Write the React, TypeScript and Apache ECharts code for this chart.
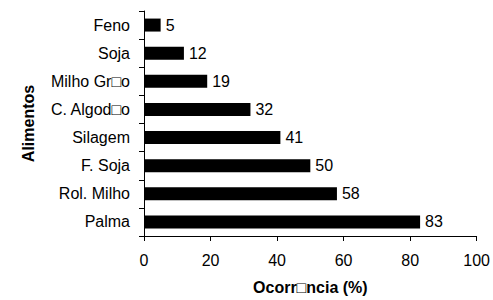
import React, { useEffect, useRef } from "react";
import * as echarts from "echarts";

const categories = ["Palma", "Rol. Milho", "F. Soja", "Silagem", "C. Algod□o", "Milho Gr□o", "Soja", "Feno"];
const values = [83, 58, 50, 41, 32, 19, 12, 5];
const xTicks = { min: 0, max: 100, interval: 20 };

export default function App() {
  const ref = useRef<HTMLDivElement>(null);
  useEffect(() => {
    const chart = echarts.init(ref.current!, null, { renderer: "svg" });
    const font = "'Liberation Sans', 'DejaVu Sans', Arial, sans-serif";
    chart.setOption({
      animation: false,
      grid: { left: 144, right: 15, top: 11, bottom: 60, containLabel: false },
      xAxis: {
        type: "value",
        min: xTicks.min,
        max: xTicks.max,
        interval: xTicks.interval,
        name: "Ocorr□ncia (%)",
        nameLocation: "middle",
        nameGap: 43,
        nameTextStyle: { fontFamily: font, fontSize: 16, fontWeight: "bold", color: "#000" },
        axisLine: { show: true, lineStyle: { color: "#000", width: 1 } },
        axisTick: { show: true, length: 5, lineStyle: { color: "#000" } },
        axisLabel: { fontFamily: font, fontSize: 16, color: "#000", margin: 16 },
        splitLine: { show: false },
      },
      yAxis: {
        type: "category",
        data: categories,
        name: "Alimentos",
        nameLocation: "middle",
        nameGap: 108,
        nameRotate: 90,
        nameTextStyle: { fontFamily: font, fontSize: 16, fontWeight: "bold", color: "#000" },
        axisLine: { show: true, lineStyle: { color: "#000", width: 1 } },
        axisTick: { show: true, length: 5, lineStyle: { color: "#000" } },
        axisLabel: { fontFamily: font, fontSize: 16, color: "#000", margin: 14 },
      },
      series: [
        {
          type: "bar",
          data: values,
          barWidth: 13,
          itemStyle: { color: "#000" },
          label: {
            show: true,
            position: "right",
            distance: 5,
            fontFamily: font,
            fontSize: 16,
            color: "#000",
          },
        },
      ],
    });
    return () => chart.dispose();
  }, []);
  return <div ref={ref} style={{ width: 493, height: 300, position: "absolute", left: 0, top: 0 }} />;
}
